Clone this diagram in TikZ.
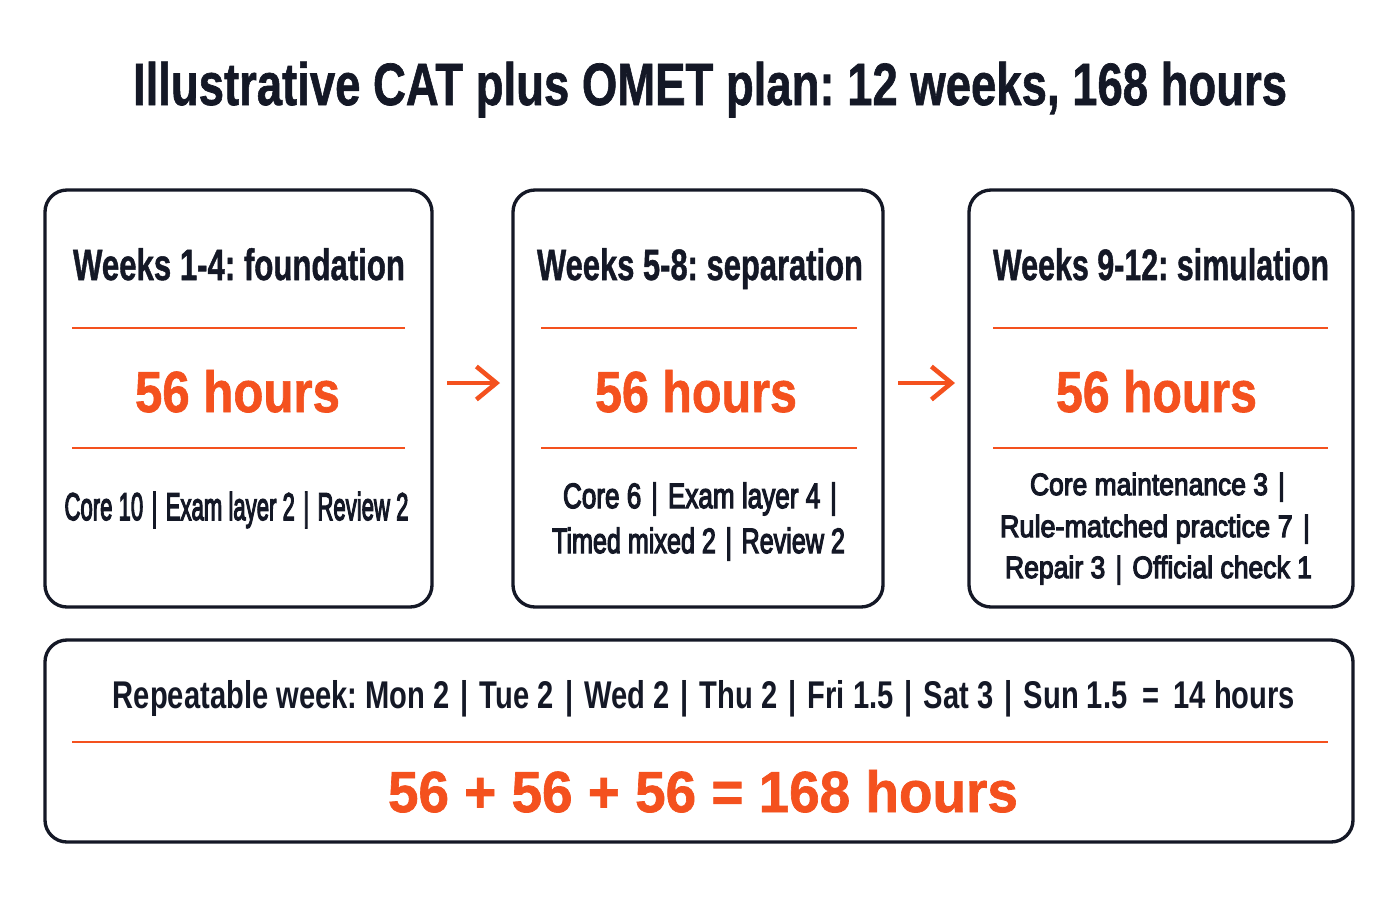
\documentclass[tikz,border=0pt]{standalone}
\usepackage{graphicx}
\usepackage{fontspec}
\setmainfont{Liberation Sans}
\newfontfamily\medfont[FakeBold=4]{Liberation Sans}
\newfontfamily\heavyfont[FakeBold=1.2]{Liberation Sans Bold}
\usetikzlibrary{arrows.meta}
\definecolor{ink}{HTML}{141826}
\definecolor{accent}{HTML}{F4511E}
\newcommand{\fitw}[2]{\resizebox{#1}{\height}{#2}}
\newcommand{\sepbar}{\hspace{0.38em}|\hspace{0.38em}}
\frenchspacing

\begin{document}
\begin{tikzpicture}[x=0.2mm,y=-0.2mm,inner sep=0pt,outer sep=0pt,
panel/.style={draw=ink,line width=1.9pt,rounded corners=4.4mm,rectangle,minimum height=83.4mm},
title/.style={anchor=base,text=ink,font=\heavyfont\fontsize{34}{40}\selectfont},
head/.style={anchor=base,text=ink,font=\heavyfont\fontsize{25}{30}\selectfont},
hours/.style={anchor=base,text=accent,font=\heavyfont\fontsize{33}{40}\selectfont},
body/.style={anchor=base,text=ink,font=\medfont\fontsize{#1}{#1}\selectfont},
rule/.style={draw=accent,line width=1.1pt},
flow/.style={draw=accent,line width=2.6pt,-{Straight Barb[length=4mm,width=6.6mm]}}]

\fill[white] (0,0) rectangle (1400,900);
\useasboundingbox (0,0) rectangle (1400,900);

\draw (710,105) node[title] (title) {\fitw{230.8mm}{Illustrative CAT plus OMET plan: 12 weeks, 168 hours}};

\draw (238.5,398.5) node[panel,minimum width=77.4mm] (box1) {};
\draw (698,398.5) node[panel,minimum width=74mm] (box2) {};
\draw (1161,398.5) node[panel,minimum width=76.8mm] (box3) {};
\draw (699,741) node[panel,minimum width=261.6mm,minimum height=40.4mm] (week) {};

\draw[flow,shorten <=3mm,shorten >=2.6mm] ([yshift=3.1mm]box1.east) -- ([yshift=3.1mm]box2.west);
\draw[flow,shorten <=3mm,shorten >=2.8mm] ([yshift=3.1mm]box2.east) -- ([yshift=3.1mm]box3.west);

\draw (239,280) node[head] (head1) {\fitw{66.4mm}{Weeks 1-4: foundation}};
\draw (700,280) node[head] (head2) {\fitw{65.2mm}{Weeks 5-8: separation}};
\draw (1161,280) node[head] (head3) {\fitw{67.2mm}{Weeks 9-12: simulation}};

\draw[rule] (72,328) -- (405,328);
\draw[rule] (541,328) -- (857,328);
\draw[rule] (993,328) -- (1328,328);

\draw (237.5,412) node[hours] (hours1) {\fitw{41mm}{56 hours}};
\draw (696,412) node[hours] (hours2) {\fitw{40.4mm}{56 hours}};
\draw (1156.5,412) node[hours] (hours3) {\fitw{40.2mm}{56 hours}};

\draw[rule] (72,448) -- (405,448);
\draw[rule] (541,448) -- (857,448);
\draw[rule] (993,448) -- (1328,448);

\draw (236.5,520) node[body=22] (split1) {\fitw{68.8mm}{Core 10\sepbar Exam layer 2\sepbar Review 2}};

\draw (700,508) node[body=20] (split2a) {\fitw{54.8mm}{Core 6\sepbar Exam layer 4\hspace{0.38em}|}};
\draw (698.5,553) node[body=20] (split2b) {\fitw{58.6mm}{Timed mixed 2\sepbar Review 2}};

\draw (1157.5,495) node[body=17.5] (split3a) {\fitw{51mm}{Core maintenance 3\hspace{0.38em}|}};
\draw (1155,537) node[body=17.5] (split3b) {\fitw{62mm}{Rule-matched practice 7\hspace{0.38em}|}};
\draw (1158.5,578) node[body=17.5] (split3c) {\fitw{61.4mm}{Repair 3\sepbar Official check 1}};

\draw (704,708) node[anchor=base,text=ink,font=\bfseries\fontsize{22}{26}\selectfont] (days) {\fitw{236.4mm}{Repeatable week: Mon 2\sepbar Tue 2\sepbar Wed 2\sepbar Thu 2\sepbar Fri 1.5\sepbar Sat 3\sepbar Sun 1.5\enspace=\enspace14 hours}};
\draw[rule] (72,742) -- (1328,742);
\draw (703,812) node[hours] (total) {\fitw{126mm}{56 + 56 + 56 = 168 hours}};
\end{tikzpicture}
\end{document}
